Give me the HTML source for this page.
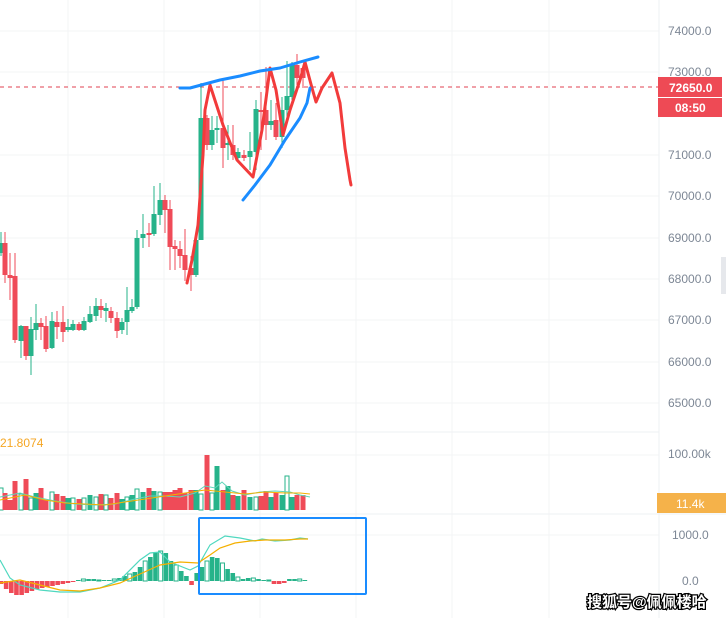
<!DOCTYPE html>
<html><head><meta charset="utf-8"><style>
html,body{margin:0;padding:0;background:#fff;width:726px;height:618px;overflow:hidden}
svg{display:block;font-family:"Liberation Sans","Noto Sans CJK SC",sans-serif}
</style></head><body>
<svg id="s" width="726" height="618" viewBox="0 0 726 618" xmlns="http://www.w3.org/2000/svg">
<g id="grid" stroke="#f3f4f6" stroke-width="1"></g>
<line x1="659" y1="0" x2="659" y2="618" stroke="#eef0f3"/>
<line x1="0" y1="432" x2="659" y2="432" stroke="#eef0f3"/>
<line x1="0" y1="514" x2="726" y2="514" stroke="#eef0f3"/>
<line x1="0" y1="87" x2="659" y2="87" stroke="#e04050" stroke-width="1" stroke-dasharray="4,4"/>
<g id="c"></g>
<g id="v"></g>
<g id="m"></g>
<g fill="#7d8795" font-size="12">
<text x="668" y="35">74000.0</text><text x="668" y="76">73000.0</text>
<text x="668" y="159">71000.0</text><text x="668" y="200">70000.0</text>
<text x="668" y="242">69000.0</text><text x="668" y="283">68000.0</text>
<text x="668" y="324">67000.0</text><text x="668" y="366">66000.0</text>
<text x="668" y="407">65000.0</text>
<text x="668" y="458">100.00k</text>
<text x="672" y="539">1000.0</text>
<text x="682" y="585">0.0</text>
</g>
<rect x="658" y="77" width="64" height="20" fill="#ee4a55"/>
<text x="669" y="92" fill="#fff" font-size="12" font-weight="bold">72650.0</text>
<rect x="658" y="98" width="64" height="19" fill="#ee4a55"/>
<text x="675" y="112" fill="#fff" font-size="12" font-weight="bold">08:50</text>
<rect x="657" y="493" width="69" height="20" fill="#f5b24a"/>
<text x="676" y="508" fill="#fff" font-size="12">11.4k</text>
<rect x="721" y="257" width="5" height="37" fill="#e6e8ec"/>
<text x="0" y="447" fill="#f5a623" font-size="12">21.8074</text>
<polyline fill="none" stroke="#f23b3b" stroke-width="3" stroke-linejoin="round" stroke-linecap="round" points="187,283 192,260 198,225 203,155 205,110 210,85 223,125 237,160 253,177 262,130 270,68 276,90 283,135 290,110 300,80 305,62 312,88 316,102 322,88 332,73 340,103 345,148 350,180 351,185"/>
<polyline fill="none" stroke="#1a8cff" stroke-width="3" stroke-linejoin="round" stroke-linecap="round" points="180,88 190,88 205,84 220,80 240,76 260,71 280,68 300,62 318,57"/>
<polyline fill="none" stroke="#1a8cff" stroke-width="3" stroke-linejoin="round" stroke-linecap="round" points="243,200 255,185 270,165 285,140 300,118 307,103 310,88"/>
<rect x="199" y="518" width="167" height="76" fill="none" stroke="#1a8cff" stroke-width="2" rx="1"/>
<text x="587" y="607" font-size="15" font-weight="bold" fill="#fff" stroke="#000" stroke-width="2.5" paint-order="stroke">搜狐号@佩佩楼哈</text>
</svg>
<script>
var NS="http://www.w3.org/2000/svg";
function el(p,t,a){var e=document.createElementNS(NS,t);for(var k in a)e.setAttribute(k,a[k]);p.appendChild(e);return e;}
var G=document.getElementById('grid');
[68,164,260,356,452,549].forEach(function(x){el(G,'line',{x1:x,y1:0,x2:x,y2:618});});
[31,72,155,196,238,279,320,362,403,455,535].forEach(function(y){el(G,'line',{x1:0,y1:y,x2:659,y2:y});});
var GR="#26b38a",RD="#ef4b58";
// x, open, close, high, low (pixel y), green?
var C=[[1,253,243,232,256,1],[5,243,275,232,283,0],[10,275,278,253,300,0],[15,276,340,253,343,0],[21,341,326,325,358,1],[26,326,356,326,360,0],[31,356,329,317,375,1],[36,330,323,304,340,1],[41,323,327,318,340,0],[46,326,349,316,352,0],[52,348,321,312,349,1],[57,322,327,311,339,0],[63,322,332,306,342,0],[68,330,327,319,332,1],[73,330,324,320,331,1],[79,324,330,322,331,0],[84,330,321,317,331,1],[90,322,314,306,323,1],[96,316,306,298,321,1],[101,306,310,299,318,0],[106,311,308,303,322,1],[111,311,318,307,323,0],[117,318,331,312,338,0],[122,330,322,318,334,1],[127,322,310,287,335,1],[132,311,307,299,313,1],[137,307,238,230,309,1],[143,238,234,214,248,1],[149,233,235,223,247,0],[154,234,214,186,236,1],[160,215,200,183,225,1],[165,200,210,195,233,0],[170,209,247,200,270,0],[175,246,249,240,270,0],[180,249,256,241,268,0],[185,255,270,229,281,0],[191,268,275,256,291,0],[196,275,240,236,277,1],[201,240,118,83,240,1],[207,118,145,115,150,0],[212,145,130,116,150,1],[217,130,128,116,143,1],[223,128,148,80,168,0],[228,145,143,125,160,1],[233,145,155,125,160,0],[238,158,152,148,162,1],[244,155,158,150,161,0],[250,157,151,132,170,1],[256,152,109,100,170,1],[261,110,112,92,150,0],[266,110,125,67,140,0],[271,125,121,100,130,1],[276,120,137,103,140,0],[282,137,110,97,148,1],[287,110,96,61,120,1],[292,97,65,62,100,1],[297,65,78,54,85,0],[303,68,78,67,88,0]];
var cg=document.getElementById('c');
C.forEach(function(c){var col=c[5]?GR:RD;var t=Math.min(c[1],c[2]),b=Math.max(c[1],c[2]);
el(cg,'line',{x1:c[0],y1:c[3],x2:c[0],y2:c[4],stroke:col,'stroke-width':1});
el(cg,'rect',{x:c[0]-2.5,y:t,width:5,height:Math.max(1.5,b-t),fill:col});});
// volume
var vg=document.getElementById('v');
var VT=[488,493,500,481,494,479,498,493,488,500,492,494,496,498,498,499,498,495,497,494,495,498,493,499,497,495,489,492,488,491,492,492,492,490,488,493,490,490,494,455,493,466,490,486,495,496,490,497,497,496,491,497,493,495,476,497];
var vg2=document.getElementById('v');
C.forEach(function(c,i){var t=VT[i]||495;var col=c[5]?GR:RD;
if(c[5]&&i%2==0){el(vg,'rect',{x:c[0]-2,y:t,width:4,height:510-t,fill:'none',stroke:col,'stroke-width':1});}
else el(vg,'rect',{x:c[0]-2.5,y:t,width:5,height:510-t,fill:col});});
el(vg,'polyline',{fill:'none',stroke:'#5fd6b9','stroke-width':1,points:"0,497 20,493 35,497 55,501 75,504 95,505 115,504 135,499 150,496 165,496 180,497 195,493 205,486 215,488 222,482 232,491 245,495 260,492 275,491 290,492 300,495 310,497"});
el(vg,'polyline',{fill:'none',stroke:'#f5b000','stroke-width':1,points:"0,500 25,495 45,500 65,503 85,504 105,505 125,502 145,499 165,496 185,493 205,490 225,492 245,494 265,492 285,493 300,493 310,494"});
// macd
var mg=document.getElementById('m');
var H=[-18,-15,-12,-3,3,8,12,12,10,8,5,3,0,-2,-3,-4,-4,-3,-3,-2,-2,-2,-2,-1,3,4,4,4,2,2,3,5,12,20,26,30,28,22,14,10,4,-5,15,20,25,24,18,12,7,3,2,3,2,1,-3,-4,-2,2,2,1,0];
var MX=[];for(var i=0;i<60;i++)MX.push(1+i*5.15);
var Hs=[-3,-8,-12,-14,-14,-12,-10,-8,-7,-6,-5,-4,-3,-2,-1,1,2,2,2,1,1,1,2,3,5,7,9,14,20,24,29,30,28,20,16,10,5,-4,8,14,20,24,23,18,12,8,4,2,3,3,2,1,1,-3,-3,-2,2,2,2,1];
Hs.forEach(function(h,i){var x=MX[i];if(x>312)return;var col=h>=0?GR:RD;var y=h>=0?581-h:581;
if(h>=0&&i%3==1)el(mg,'rect',{x:x-2,y:y,width:4,height:Math.abs(h)||1,fill:'none',stroke:col,'stroke-width':1});
else el(mg,'rect',{x:x-2.3,y:y,width:4.6,height:Math.abs(h)||1,fill:col});});
el(mg,'polyline',{fill:'none',stroke:'#4fd8bf','stroke-width':1.2,points:"0,560 10,578 20,585 40,590 60,592 80,592 100,588 120,580 140,560 150,553 160,552 170,562 190,570 198,566 210,545 225,536 240,538 255,541 262,539 275,541 290,540 300,538 308,539"});
el(mg,'polyline',{fill:'none',stroke:'#f5b000','stroke-width':1.2,points:"0,583 20,580 40,585 60,590 80,591 100,588 120,583 140,574 160,565 180,562 198,563 210,555 220,548 235,543 250,541 265,540 285,540 300,539 308,539"});
</script>
</body></html>
